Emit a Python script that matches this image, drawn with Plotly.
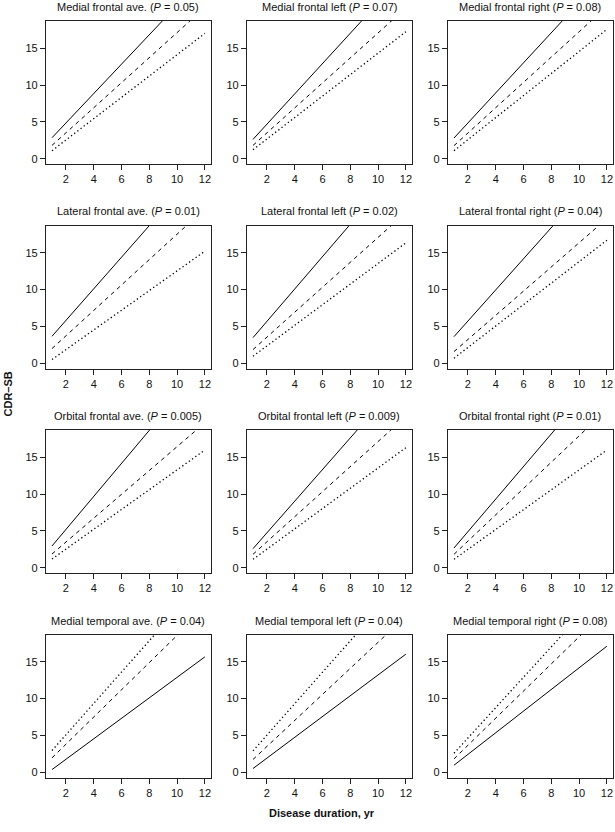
import plotly.graph_objects as go

# ---- data ----
regions = [
    "Medial frontal ave.", "Medial frontal left", "Medial frontal right",
    "Lateral frontal ave.", "Lateral frontal left", "Lateral frontal right",
    "Orbital frontal ave.", "Orbital frontal left", "Orbital frontal right",
    "Medial temporal ave.", "Medial temporal left", "Medial temporal right",
]
p_values = ["0.05", "0.07", "0.08", "0.01", "0.02", "0.04",
            "0.005", "0.009", "0.01", "0.04", "0.04", "0.08"]

duration = [1, 12]  # disease duration, yr (line end points)

# predicted CDR-SB at duration 1 and 12
solid_y1 = [2.85, 2.63, 2.81, 3.66, 3.48, 3.61, 2.95, 2.59, 2.68, 0.36, 0.50, 0.95]
solid_y12 = [24.85, 25.3, 25.3, 27.3, 27.7, 26.9, 27.65, 26.25, 27.05, 15.68, 16.05, 17.13]
dashed_y1 = [1.81, 1.81, 1.77, 1.99, 1.85, 1.58, 1.86, 1.82, 1.82, 1.95, 1.73, 1.81]
dashed_y12 = [20.56, 20.5, 20.7, 21.0, 20.5, 19.66, 19.7, 20.56, 21.5, 22.3, 21.2, 22.1]
dotted_y1 = [1.09, 1.22, 1.09, 0.50, 0.95, 0.68, 1.18, 1.14, 1.14, 2.95, 2.91, 2.58]
dotted_y12 = [17.04, 17.27, 17.58, 15.23, 16.36, 16.72, 16.0, 16.32, 16.0, 26.4, 26.4, 25.3]

x_ticks = [2, 4, 6, 8, 10, 12]
y_ticks = [0, 5, 10, 15]

# ---- layout geometry ----
W, H = 615, 832
col_left = [45.9, 246.9, 447.9]
col_w = 165.1
row_top = [21.0, 225.5, 430.0, 634.5]
row_h = 143.0
FONT = "Liberation Sans, Arial, Helvetica, sans-serif"

fig = go.Figure()
annotations = []
series = [
    (solid_y1, solid_y12, "solid", 1.0),
    (dashed_y1, dashed_y12, "4px,4px", 1.0),
    (dotted_y1, dotted_y12, "1.3px,2.7px", 1.3),
]

for i in range(12):
    r, c = divmod(i, 3)
    n = i + 1
    xa = "x" if n == 1 else f"x{n}"
    ya = "y" if n == 1 else f"y{n}"
    for y1, y12, dash, lw in series:
        fig.add_trace(go.Scatter(
            x=duration, y=[y1[i], y12[i]], mode="lines",
            line=dict(color="#000000", width=lw, dash=dash),
            xaxis=xa, yaxis=ya, showlegend=False, hoverinfo="skip",
        ))
    left = col_left[c]
    top = row_top[r]
    xd = [left / W, (left + col_w) / W]
    yd = [(H - top - row_h) / H, (H - top) / H]
    axis_common = dict(
        showline=True, mirror=True, linecolor="#222222", linewidth=1,
        ticks="outside", ticklen=5, tickwidth=1, tickcolor="#222222",
        showgrid=False, zeroline=False, fixedrange=True,
        tickfont=dict(family=FONT, size=11, color="#111111"),
    )
    fig.layout[f"xaxis{'' if n == 1 else n}"] = dict(
        domain=xd, range=[0.56, 12.44], tickvals=x_ticks,
        anchor=ya, **axis_common)
    fig.layout[f"yaxis{'' if n == 1 else n}"] = dict(
        domain=yd, range=[-0.72, 18.72], tickvals=y_ticks,
        anchor=xa, **axis_common)
    annotations.append(dict(
        text=f"{regions[i]} (<i>P</i> = {p_values[i]})",
        x=(left + col_w / 2) / W, y=(H - (top - 14)) / H,
        xref="paper", yref="paper", xanchor="center", yanchor="middle",
        showarrow=False, font=dict(family=FONT, size=11, color="#111111"),
    ))

annotations.append(dict(
    text="<b>Disease duration, yr</b>", x=322 / W, y=(H - 813) / H,
    xref="paper", yref="paper", xanchor="center", yanchor="middle",
    showarrow=False, font=dict(family=FONT, size=11, color="#111111"),
))
annotations.append(dict(
    text="<b>CDR–SB</b>", x=7.5 / W, y=(H - 394) / H, textangle=-90,
    xref="paper", yref="paper", xanchor="center", yanchor="middle",
    showarrow=False, font=dict(family=FONT, size=11, color="#111111"),
))

fig.update_layout(
    width=W, height=H, autosize=False,
    margin=dict(l=0, r=0, t=0, b=0, pad=0),
    paper_bgcolor="white", plot_bgcolor="white",
    annotations=annotations, showlegend=False,
)

fig.write_html(
    "out.html",
    config={"displayModeBar": False, "responsive": False},
    post_script="document.body.style.margin='0px';document.body.style.overflow='hidden';",
)
